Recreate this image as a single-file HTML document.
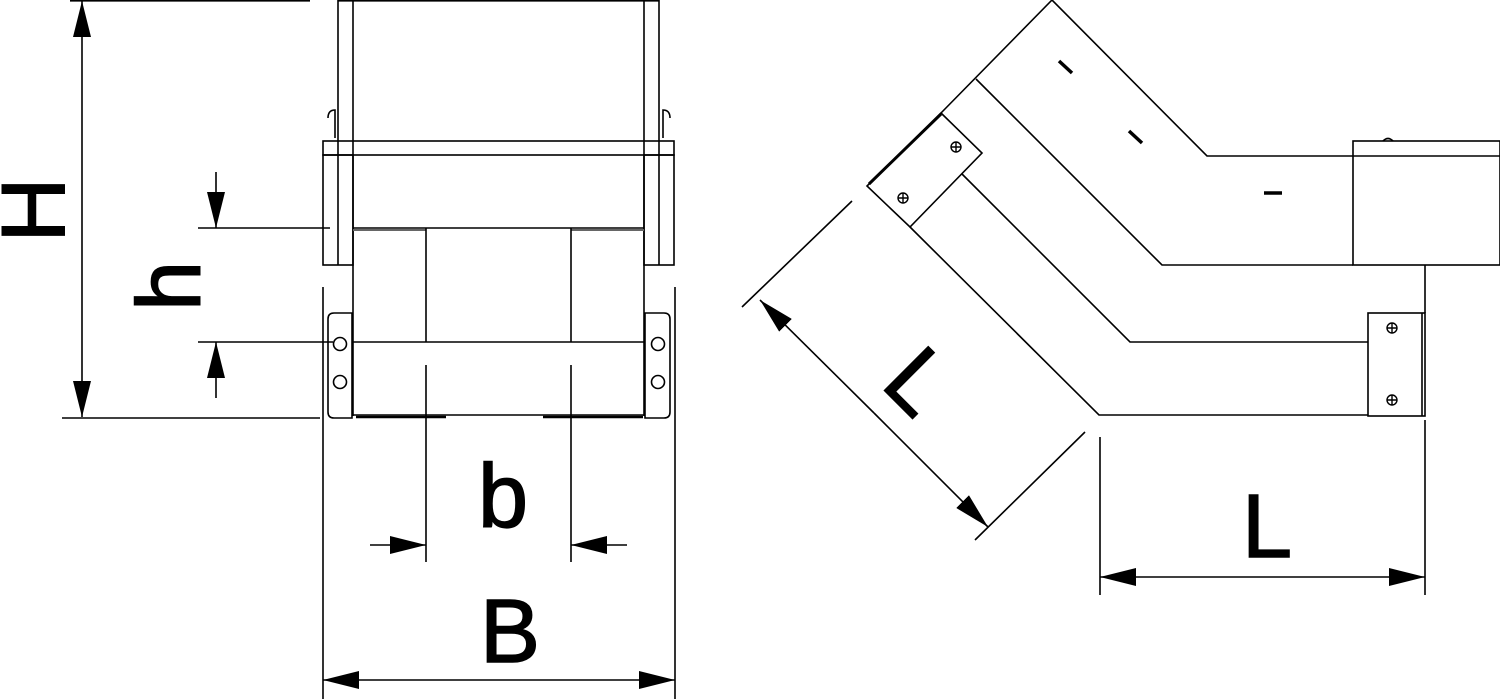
<!DOCTYPE html>
<html><head><meta charset="utf-8"><style>html,body{margin:0;padding:0;background:#fff}svg{display:block}</style></head>
<body>
<svg width="1500" height="699" viewBox="0 0 1500 699" xmlns="http://www.w3.org/2000/svg">
<defs>
<marker id="a" viewBox="0 0 36 18" refX="36" refY="9" markerWidth="36" markerHeight="18" markerUnits="userSpaceOnUse" orient="auto"><path d="M0,0 L36,9 L0,18 Z" fill="#000"/></marker>
</defs>
<g fill="none" stroke="#000" stroke-width="1.6">
<!-- left view -->
<line x1="338" y1="0" x2="338" y2="265"/><line x1="659" y1="0" x2="659" y2="265"/>
<line x1="353" y1="0" x2="353" y2="416"/><line x1="644" y1="0" x2="644" y2="416"/>
<line x1="338" y1="0.8" x2="659" y2="0.8"/>
<rect x="323" y="141" width="351" height="14"/>
<rect x="323" y="155" width="30" height="110"/><rect x="644" y="155" width="30" height="110"/>
<path d="M328,118 q0,-8 7,-8 v28 M670,118 q0,-8 -7,-8 v28"/>
<line x1="353" y1="228" x2="644" y2="228"/>
<line x1="353" y1="230" x2="426" y2="230" stroke="#666" stroke-width="2"/>
<line x1="571" y1="230" x2="644" y2="230" stroke="#666" stroke-width="2"/>
<line x1="426" y1="228" x2="426" y2="342"/><line x1="571" y1="228" x2="571" y2="342"/>
<line x1="353" y1="342" x2="644" y2="342"/>
<line x1="353" y1="415" x2="644" y2="415"/>
<path d="M356,417 h90 M543,417 h100" stroke-width="2.5"/>
<path d="M352,313 h-18 q-6,0 -6,6 v93 q0,6 6,6 h18 Z"/>
<path d="M645,313 h19 q6,0 6,6 v93 q0,6 -6,6 h-19 Z"/>
<circle cx="340" cy="344" r="6.5"/><circle cx="340" cy="382" r="6.5"/>
<circle cx="658" cy="344" r="6.5"/><circle cx="658" cy="382" r="6.5"/>
<!-- left dims -->
<line x1="70" y1="0.8" x2="310" y2="0.8"/>
<line x1="62" y1="418" x2="320" y2="418"/>
<line x1="82" y1="209" x2="82" y2="1" marker-end="url(#a)"/>
<line x1="82" y1="209" x2="82" y2="417" marker-end="url(#a)"/>
<line x1="198" y1="228" x2="330" y2="228"/><line x1="198" y1="342" x2="333" y2="342"/>
<line x1="216" y1="172" x2="216" y2="228" marker-end="url(#a)"/>
<line x1="216" y1="398" x2="216" y2="342" marker-end="url(#a)"/>
<line x1="426" y1="365" x2="426" y2="562"/><line x1="571" y1="365" x2="571" y2="562"/>
<line x1="370" y1="545" x2="426" y2="545" marker-end="url(#a)"/>
<line x1="627" y1="545" x2="571" y2="545" marker-end="url(#a)"/>
<line x1="323" y1="287" x2="323" y2="699"/><line x1="675" y1="287" x2="675" y2="699"/>
<line x1="499" y1="680" x2="323" y2="680" marker-end="url(#a)"/>
<line x1="499" y1="680" x2="675" y2="680" marker-end="url(#a)"/>
<!-- right view -->
<path d="M941,113 L1052,0 L1207,156 L1500,156"/>
<rect x="1353" y="141" width="147" height="124"/>
<path d="M1383,141 q5,-5 10,0"/>
<path d="M976,79 L1162,265 L1353,265"/>
<path d="M962,174 L1130,342 L1368,342"/>
<path d="M910,227 L1099,415 L1368,415"/>
<line x1="1425" y1="265" x2="1425" y2="313"/>
<rect x="1368" y="313" width="57" height="103"/>
<line x1="1422" y1="313" x2="1422" y2="416"/>
<path d="M941,113 L982,153 L910,227 L867,186 Z"/>
<line x1="869" y1="184" x2="941" y2="114" stroke-width="3"/>
<g stroke-width="1.4"><circle cx="956" cy="147" r="5"/><circle cx="903" cy="198" r="5"/><circle cx="1392" cy="328" r="5"/><circle cx="1392" cy="400" r="5"/>
<path d="M951,147h10M956,142v10M898,198h10M903,193v10M1387,328h10M1392,323v10M1387,400h10M1392,395v10"/></g>
<g stroke-width="3.5"><line x1="1059" y1="61" x2="1072" y2="73"/><line x1="1129" y1="131" x2="1142" y2="143"/><line x1="1264" y1="193" x2="1282" y2="193"/></g>
<!-- right dims -->
<line x1="742" y1="307" x2="852" y2="201"/>
<line x1="975" y1="540" x2="1085" y2="432"/>
<line x1="874" y1="413" x2="760" y2="300" marker-end="url(#a)"/>
<line x1="874" y1="413" x2="988" y2="527" marker-end="url(#a)"/>
<line x1="1100" y1="437" x2="1100" y2="595"/><line x1="1425" y1="420" x2="1425" y2="595"/>
<line x1="1262" y1="577" x2="1100" y2="577" marker-end="url(#a)"/>
<line x1="1262" y1="577" x2="1425" y2="577" marker-end="url(#a)"/>
</g>
<g font-family="Liberation Sans, sans-serif" font-size="90" fill="#000" stroke="#000" stroke-width="1.5" text-anchor="middle">
<text transform="translate(64,210) rotate(-90)">H</text>
<text transform="translate(200,286) rotate(-90)">h</text>
<text x="503" y="527">b</text>
<text x="510" y="662">B</text>
<text x="1267" y="557">L</text>
<text transform="translate(897,403) rotate(45)">L</text>
</g>
</svg>
</body></html>
